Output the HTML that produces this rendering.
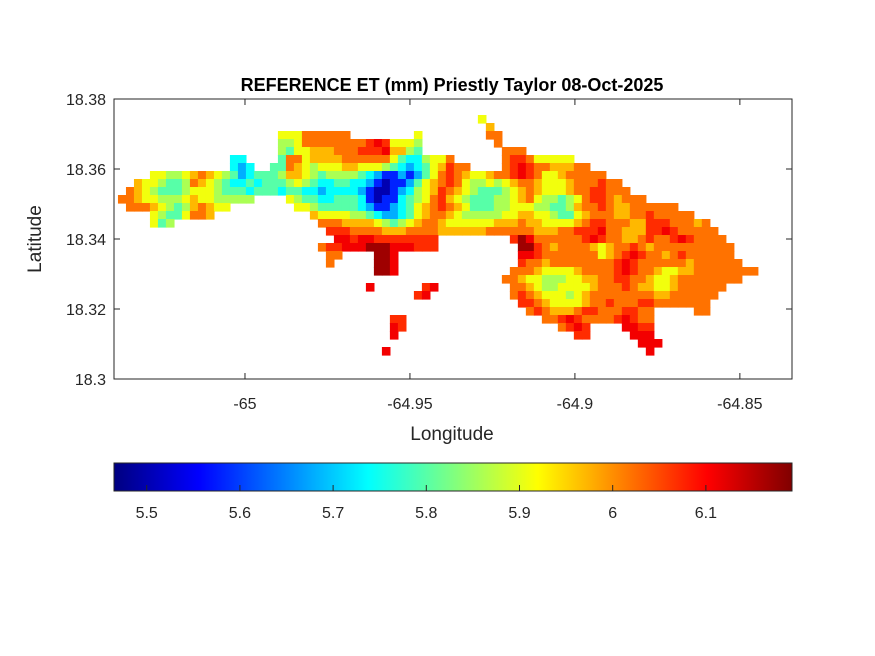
<!DOCTYPE html>
<html><head><meta charset="utf-8"><style>
html,body{margin:0;padding:0;background:#fff;}
svg{display:block;font-family:"Liberation Sans",Arial,sans-serif;}
</style></head><body>
<svg id="chart" width="875" height="656" viewBox="0 0 875 656">
<text x="452" y="91" text-anchor="middle" font-size="18" font-weight="bold" fill="#000">REFERENCE ET (mm) Priestly Taylor 08-Oct-2025</text>
<g id="cells"></g>
<rect x="114" y="99" width="678" height="280" fill="none" stroke="#262626" stroke-width="1"/>
<g id="axes"></g>
<text x="452" y="440" text-anchor="middle" font-size="19" fill="#262626">Longitude</text>
<text transform="translate(41,239) rotate(-90)" text-anchor="middle" font-size="19" fill="#262626">Latitude</text>
<g id="cbar"></g>
</svg>
<script>
const lonMin=-65.0397, lonMax=-64.8342, latMin=18.3, latMax=18.38;
const xTicks=[-65,-64.95,-64.9,-64.85];
const xTickLabels=["-65","-64.95","-64.9","-64.85"];
const yTicks=[18.3,18.32,18.34,18.36,18.38];
const yTickLabels=["18.3","18.32","18.34","18.36","18.38"];
const cMin=5.4649, cMax=6.1924;
const cTicks=[5.5,5.6,5.7,5.8,5.9,6,6.1];
const cTickLabels=["5.5","5.6","5.7","5.8","5.9","6","6.1"];
const gridLon0=-65.0385, gridLat0=18.375429, dLon=0.0024242, dLat=0.0022857;
const levelCodes="0123456789AB";
const levelValues=[5.50,5.58,5.68,5.74,5.80,5.86,5.91,5.97,6.02,6.07,6.11,6.17];
const gridRows=[
[[45,"6"]],
[[46,"7"]],
[[20,"666888888"],[37,"6"],[46,"88"]],
[[20,"556888888889A96665"],[47,"8"]],
[[20,"5466777888999A7754"],[48,"888"]],
[[14,"33"],[20,"4886777788888864335668"],[48,"899866666"]],
[[14,"323"],[19,"4487656667766654323467988"],[48,"89A98877788"]],
[[4,"66556787654234"+"44577654"+"5555"+"43211212"+"4689876678"+"89A9866788888"]],
[[2,"7665445876"+"5433434445"+"6543344332"+"1011246789"+"8655656788"+"76667888988"]],
[[1,"8765444566"+"6544434443"+"4433233332"+"1001235679"+"8765444567"+"8766678899888"]],
[[0,"88766555676655555"],[21,"6544334443"+"1011345689"+"7654445567"+"865545689987888"]],
[[1,"888"],[4,"7654578766"],[22,"6654444432"+"1123467898"+"7644455666"+"5544578898"+"77888888"]],
[[4,"65446887"],[24,"7666655432"+"2346788765"+"5555667766"+"5446788877"+"88988888"]],
[[4,"645"],[25,"8887777654"+"5678876666"+"6677787766"+"6678998887"+"799988878"]],
[[26,"9998888777"+"8888777777"+"8888887778"+"8999A88777"+"99A988888"]],
[[27,"AA9AA99999999"],[49,"9BA8888889"+"A988778988"+"9A98888"]],
[[25,"899AAABBBAAA999"],[50,"BB98788887"+"6788987888"+"8888888"]],
[[26,"88"],[32,"BBA"],[50,"AA98888888"+"6789A98878"+"9888888"]],
[[26,"8"],[32,"BBA"],[50,"9887888888"+"889A988888"+"87888888"]],
[[32,"BBA"],[49,"8887666678"+"8889A98876"+"67788888888"]],
[[48,"8876655566"+"7788998876"+"6788888888"]],
[[31,"A"],[38,"9A"],[49,"8876556666"+"7888987766"+"7888888"]],
[[37,"9A"],[49,"8987666567"+"8888888877"+"888888"]],
[[50,"9987666678"+"8988899888"+"8888"]],
[[51,"8987778998889988"],[72,"88"]],
[[34,"99"],[53,"889A988889A988"]],
[[34,"A9"],[55,"89A9"],[63,"AA99"]],
[[34,"A"],[57,"99"],[64,"AAA"]],
[[65,"AAA"]],
[[33,"A"],[66,"A"]]
];
const NS="http://www.w3.org/2000/svg";
function xS(lon){return 114+(lon-lonMin)/(lonMax-lonMin)*678;}
function yS(lat){return 379-(lat-latMin)/(latMax-latMin)*280;}
function cS(v){return 114+(v-cMin)/(cMax-cMin)*678;}
function cl(v){return Math.max(0,Math.min(1,v));}
function jet(v){const t=cl((v-cMin)/(cMax-cMin));
 const r=cl(1.5-Math.abs(4*t-3)),g=cl(1.5-Math.abs(4*t-2)),b=cl(1.5-Math.abs(4*t-1));
 return "rgb("+Math.round(r*255)+","+Math.round(g*255)+","+Math.round(b*255)+")";}
const cells=document.getElementById("cells");
gridRows.forEach((row,r)=>{
 row.forEach(seg=>{
  const c0=seg[0], s=seg[1];
  for(let i=0;i<s.length;i++){
   const k=levelCodes.indexOf(s[i]); if(k<0) continue;
   const v=levelValues[k];
   const lon=gridLon0+(c0+i)*dLon, lat=gridLat0-r*dLat;
   const x=xS(lon), y=yS(lat), w=xS(lon+dLon)-x, h=yS(lat-dLat)-y;
   const el=document.createElementNS(NS,"rect");
   el.setAttribute("x",x.toFixed(2));el.setAttribute("y",y.toFixed(2));
   el.setAttribute("width",(w+0.6).toFixed(2));el.setAttribute("height",(h+0.6).toFixed(2));
   el.setAttribute("fill",jet(v));
   
   
   cells.appendChild(el);
  }
 });
});
const axes=document.getElementById("axes");
function line(p,x1,y1,x2,y2,name){const l=document.createElementNS(NS,"line");
 l.setAttribute("x1",x1);l.setAttribute("y1",y1);l.setAttribute("x2",x2);l.setAttribute("y2",y2);
 l.setAttribute("stroke","#262626");l.setAttribute("stroke-width","1");
 
 
 p.appendChild(l);}
function text(p,x,y,s,anchor,name){const t=document.createElementNS(NS,"text");
 t.setAttribute("x",x);t.setAttribute("y",y);t.setAttribute("text-anchor",anchor);
 t.setAttribute("font-size","16");t.setAttribute("fill","#262626");t.textContent=s;
 
 
 p.appendChild(t);}
xTicks.forEach((v,i)=>{const x=xS(v);
 line(axes,x,379,x,373,"x-tick");line(axes,x,99,x,105,"x-tick-top");
 text(axes,x,409,xTickLabels[i],"middle","x-tick-label");});
yTicks.forEach((v,i)=>{const y=yS(v);
 line(axes,114,y,120,y,"y-tick");line(axes,792,y,786,y,"y-tick-right");
 text(axes,106,y+6,yTickLabels[i],"end","y-tick-label");});
const cb=document.getElementById("cbar");
const defs=document.createElementNS(NS,"defs");
const lg=document.createElementNS(NS,"linearGradient");lg.setAttribute("id","jetg");
for(let i=0;i<=40;i++){const st=document.createElementNS(NS,"stop");
 st.setAttribute("offset",(i/40));st.setAttribute("stop-color",jet(cMin+(cMax-cMin)*i/40));lg.appendChild(st);}
defs.appendChild(lg);cb.appendChild(defs);
const br=document.createElementNS(NS,"rect");
br.setAttribute("x",114);br.setAttribute("y",463);br.setAttribute("width",678);br.setAttribute("height",28);
br.setAttribute("fill","url(#jetg)");br.setAttribute("stroke","#262626");br.setAttribute("stroke-width","1");


cb.appendChild(br);
cTicks.forEach((v,i)=>{const x=cS(v);
 line(cb,x,491,x,485,"colorbar-tick");
 text(cb,x,518,cTickLabels[i],"middle","colorbar-tick-label");});
</script>
</body></html>
